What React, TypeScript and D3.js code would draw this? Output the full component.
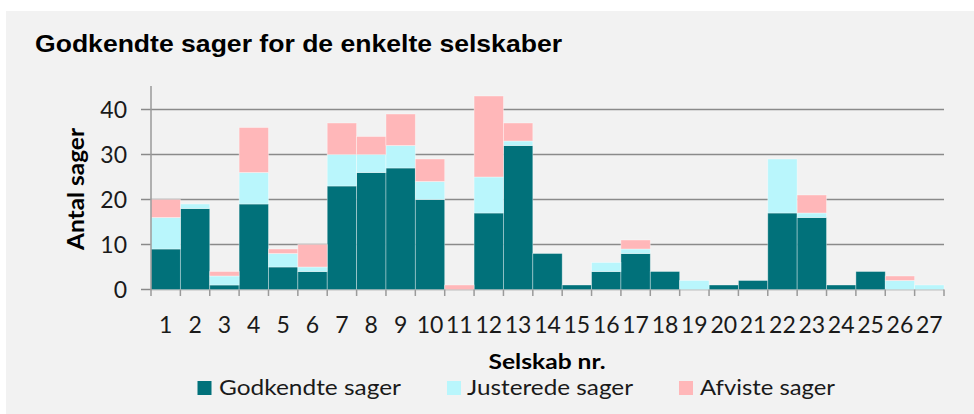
import React from "react";
import * as d3 from "d3";

const categories = [
  "1", "2", "3", "4", "5", "6", "7", "8", "9", "10", "11", "12", "13", "14",
  "15", "16", "17", "18", "19", "20", "21", "22", "23", "24", "25", "26", "27",
];
const godkendte = [9, 18, 1, 19, 5, 4, 23, 26, 27, 20, 0, 17, 32, 8, 1, 4, 8, 4, 0, 1, 2, 17, 16, 1, 4, 0, 0];
const justerede = [7, 1, 2, 7, 3, 1, 7, 4, 5, 4, 0, 8, 1, 0, 0, 2, 1, 0, 2, 0, 0, 12, 1, 0, 0, 2, 1];
const afviste = [4, 0, 1, 10, 1, 5, 7, 4, 7, 5, 1, 18, 4, 0, 0, 0, 2, 0, 0, 0, 0, 0, 4, 0, 0, 1, 0];
const yTicks = [0, 10, 20, 30, 40];

const seriesNames = ["Godkendte sager", "Justerede sager", "Afviste sager"];
const colors = ["#01717a", "#b9f6fc", "#ffb7b9"];

const W = 974;
const H = 414;
const font = "Lato, 'Open Sans', sans-serif";

const App = () => {
  const rows = categories.map((c, i) => ({
    cat: c,
    g: godkendte[i],
    j: justerede[i],
    a: afviste[i],
  }));
  const stacked = d3.stack<any>().keys(["g", "j", "a"])(rows);

  const x = d3.scaleBand().domain(categories).range([151, 944]).padding(0);
  const y = d3.scaleLinear().domain([0, 45]).range([289.5, 87]);

  // legend layout: square x, text x, text width
  const legend = [
    { sx: 197.5, tx: 219, tw: 182 },
    { sx: 447, tx: 467, tw: 166 },
    { sx: 679, tx: 700, tw: 135 },
  ];

  return (
    <svg
      width={W}
      height={H}
      style={{ position: "absolute", left: 0, top: 0, display: "block" }}
    >
      <rect x={0} y={0} width={W} height={H} fill="#ffffff" />
      <rect x={6} y={11} width={W - 6} height={H - 11} fill="#f2f2f2" />

      <text
        x={35}
        y={52}
        fontFamily="'Liberation Sans', Arial, sans-serif"
        fontWeight="bold"
        fontSize={24}
        textLength={527}
        lengthAdjust="spacingAndGlyphs"
        fill="#000"
      >
        Godkendte sager for de enkelte selskaber
      </text>

      {/* gridlines */}
      {yTicks.map((t) => (
        <line
          key={t}
          x1={141}
          x2={944}
          y1={y(t)}
          y2={y(t)}
          stroke="#8a8a8a"
          strokeWidth={1.5}
        />
      ))}

      {/* bars */}
      {stacked.map((s, si) => (
        <g key={si} fill={colors[si]}>
          {s.map((d, i) =>
            d[1] - d[0] > 0 ? (
              <rect
                key={i}
                x={x(categories[i])}
                width={x.bandwidth()}
                y={y(d[1])}
                height={y(d[0]) - y(d[1])}
                stroke="#ffffff"
                strokeOpacity={0.45}
                strokeWidth={0.8}
              />
            ) : null
          )}
        </g>
      ))}

      {/* y axis line */}
      <line x1={151} x2={151} y1={86} y2={290} stroke="#9a9a9a" strokeWidth={1.5} />
      {/* x axis ticks */}
      {[...categories, "end"].map((c, i) => {
        const xx = 151 + i * x.bandwidth();
        return (
          <line key={c} x1={xx} x2={xx} y1={289.5} y2={296} stroke="#9a9a9a" strokeWidth={1.5} />
        );
      })}

      {/* y tick labels */}
      {yTicks.map((t) => (
        <text
          key={t}
          x={127}
          y={y(t) + 8.3}
          textAnchor="end"
          fontFamily={font}
          fontSize={23}
          fill="#1a1a1a"
        >
          {t}
        </text>
      ))}

      {/* x tick labels */}
      {categories.map((c) => (
        <text
          key={c}
          x={(x(c) as number) + x.bandwidth() / 2}
          y={333}
          textAnchor="middle"
          fontFamily={font}
          fontSize={23}
          fill="#1a1a1a"
        >
          {c}
        </text>
      ))}

      <text
        transform="translate(84,189) rotate(-90)"
        textAnchor="middle"
        fontFamily={font}
        fontWeight="bold"
        fontSize={23}
        textLength={122}
        lengthAdjust="spacingAndGlyphs"
        fill="#000"
      >
        Antal sager
      </text>

      <text
        x={547}
        y={369}
        textAnchor="middle"
        fontFamily={font}
        fontWeight="bold"
        fontSize={21}
        textLength={117}
        lengthAdjust="spacingAndGlyphs"
        fill="#000"
      >
        Selskab nr.
      </text>

      {seriesNames.map((n, i) => (
        <g key={n}>
          <rect x={legend[i].sx} y={381} width={14} height={14} fill={colors[i]} />
          <text
            x={legend[i].tx}
            y={395}
            fontFamily={font}
            fontSize={22}
            textLength={legend[i].tw}
            lengthAdjust="spacingAndGlyphs"
            fill="#1a1a1a"
          >
            {n}
          </text>
        </g>
      ))}
    </svg>
  );
};

export default App;
